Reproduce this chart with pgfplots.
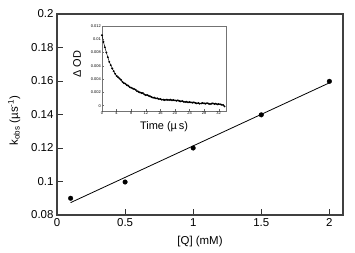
\documentclass[border=0pt]{standalone}
\usepackage{pgfplots}
\pgfplotsset{compat=1.18}
\usepackage{fontspec}
\setmainfont{Liberation Sans}
\begin{document}
\begin{tikzpicture}
\path[use as bounding box] (-57bp,-38bp) rectangle (298bp,215bp);
\begin{axis}[
  scale only axis, width=286bp, height=201bp,
  xmin=0, xmax=2.1, ymin=0.08, ymax=0.2,
  xtick={0,0.5,1,1.5,2}, ytick={0.08,0.1,0.12,0.14,0.16,0.18,0.2},
  xticklabels={0,0.5,1,1.5,2},
  yticklabels={0.08,0.1,0.12,0.14,0.16,0.18,0.2},
  tick pos=left, tick align=inside, major tick length=5.5bp,
  ticklabel style={font=\fontsize{11.5}{12}\selectfont},
  axis line style={draw=black!75, line width=1.1pt},
  every tick/.style={black!80, line width=0.8pt},
  xlabel={[Q] (mM)}, ylabel={k\textsubscript{obs} (µs\textsuperscript{-1})},
  every axis x label/.style={at={(axis description cs:0.5,-0.134)},anchor=center,font=\fontsize{11.5}{12}\selectfont},
  every axis y label/.style={at={(axis description cs:-0.15,0.47)},anchor=center,rotate=90,font=\fontsize{11.5}{12}\selectfont},
  clip=false,
]
\addplot[only marks, mark=*, mark size=2.3pt, black] coordinates {
  (0.1,0.0900) (0.5,0.0997) (1.0,0.1200) (1.5,0.1398) (2.0,0.1598)
};
\addplot[black, line width=0.8pt] coordinates {(0.1,0.0874) (2.0,0.1589)};
\end{axis}
\begin{axis}[
  at={(45bp,104bp)}, anchor=south west,
  scale only axis, width=124bp, height=85bp,
  xmin=0, xmax=34, ymin=-0.0008, ymax=0.012,
  xtick={0,4,8,12,16,20,24,28,32}, ytick={0,0.002,0.004,0.006,0.008,0.01,0.012},
  xticklabels={0,4,8,12,16,20,24,28,32},
  yticklabels={0,0.002,0.004,0.006,0.008,0.01,0.012},
  scaled y ticks=false,
  tick pos=left, tick align=inside, major tick length=2bp,
  ticklabel style={font=\fontsize{4}{5}\selectfont, inner sep=1pt},
  axis line style={draw=black!55, line width=0.6pt},
  every tick/.style={black!60, line width=0.4pt},
  xlabel={Time (µ\,s)}, ylabel={Δ OD},
  every axis x label/.style={at={(axis description cs:0.5,-0.19)},anchor=center,font=\fontsize{11}{12}\selectfont},
  every axis y label/.style={at={(axis description cs:-0.2,0.55)},anchor=center,rotate=90,font=\fontsize{11}{12}\selectfont},
]
\addplot[black, line width=0.5pt, mark=*, mark size=0.7pt] coordinates {
(0.0,0.0106) (0.4,0.0096) (0.8,0.0088) (1.2,0.0080) (1.6,0.0073) (2.0,0.0066)
(2.4,0.0061) (2.8,0.0056) (3.2,0.0052) (3.6,0.0048) (4.0,0.0045) (4.4,0.0043)
(4.8,0.0041) (5.2,0.0039) (5.6,0.0036) (6.0,0.0034) (6.4,0.0033) (6.8,0.0031)
(7.2,0.0030) (7.6,0.0028) (8.0,0.0027) (8.4,0.0026) (8.8,0.0025) (9.2,0.0024)
(9.6,0.0022) (10.0,0.0021) (10.4,0.0020) (10.8,0.0019) (11.2,0.0019) (11.6,0.0017)
(12.0,0.0016) (12.4,0.0016) (12.8,0.0015) (13.2,0.0014) (13.6,0.0013) (14.0,0.0012)
(14.4,0.0012) (14.8,0.0011) (15.2,0.0011) (15.6,0.0010) (16.0,0.0010) (16.4,0.0009)
(16.8,0.0009) (17.2,0.00085) (17.6,0.0009) (18.0,0.00088) (18.4,0.00085) (18.8,0.0009)
(19.2,0.00082) (19.6,0.00085) (20.0,0.0008) (20.4,0.00075) (20.8,0.0008) (21.2,0.0007)
(21.6,0.00065) (22.0,0.0007) (22.4,0.0006) (22.8,0.00055) (23.2,0.0006) (23.6,0.0005)
(24.0,0.00055) (24.4,0.0005) (24.8,0.00045) (25.2,0.0005) (25.6,0.0004) (26.0,0.00035)
(26.4,0.0004) (26.8,0.0003) (27.2,0.00035) (27.6,0.0004) (28.0,0.00035) (28.4,0.0003)
(28.8,0.00038) (29.2,0.0003) (29.6,0.00025) (30.0,0.0003) (30.4,0.00035) (30.8,0.00025)
(31.2,0.0003) (31.6,0.0002) (32.0,0.00025) (32.4,0.0002) (32.8,0.00015) (33.2,0.0001)
(33.6,-0.0001)
};
\end{axis}
\end{tikzpicture}
\end{document}
